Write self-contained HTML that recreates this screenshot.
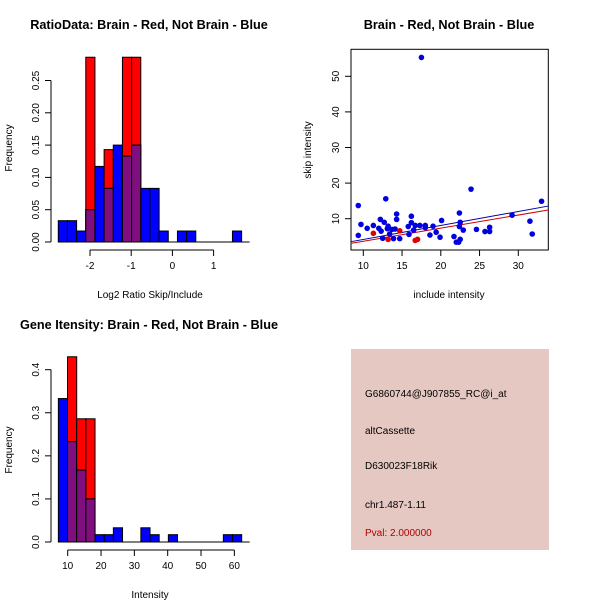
<!DOCTYPE html>
<html><head><meta charset="utf-8"><style>
body{margin:0;background:#fff}
svg{display:block;font-family:"Liberation Sans",sans-serif}
</style></head><body>
<svg id="c" width="600" height="600" xmlns="http://www.w3.org/2000/svg">
<rect width="600" height="600" fill="#fff"/>
<text x="149" y="29" font-size="12.7" font-weight="bold" text-anchor="middle">RatioData: Brain - Red, Not Brain - Blue</text>
<text x="449" y="29" font-size="12.7" font-weight="bold" text-anchor="middle">Brain - Red, Not Brain - Blue</text>
<text x="149" y="329" font-size="12.7" font-weight="bold" text-anchor="middle">Gene Itensity: Brain - Red, Not Brain - Blue</text>
<text x="150" y="298" font-size="10" text-anchor="middle">Log2 Ratio Skip/Include</text>
<text x="12" y="148" font-size="10" text-anchor="middle" transform="rotate(-90 12 148)">Frequency</text>
<text x="449" y="298" font-size="10" text-anchor="middle">include intensity</text>
<text x="311" y="150" font-size="10" text-anchor="middle" transform="rotate(-90 311 150)">skip intensity</text>
<text x="150" y="598" font-size="10" text-anchor="middle">Intensity</text>
<text x="12" y="450" font-size="10" text-anchor="middle" transform="rotate(-90 12 450)">Frequency</text>
<g>
<rect x="351" y="349" width="198" height="201" fill="#e6c8c2"/>
<text x="365" y="397" font-size="10">G6860744@J907855_RC@i_at</text>
<text x="365" y="434" font-size="10">altCassette</text>
<text x="365" y="469" font-size="10">D630023F18Rik</text>
<text x="365" y="508" font-size="10">chr1.487-1.11</text>
<text x="365" y="536" font-size="10" fill="#b00000">Pval: 2.000000</text>
</g>
<g id="g1"></g><g id="g2"></g><g id="g3"></g>
</svg>
<script>
const ratioBinStart=-2.77, ratioBinWidth=0.2225;
const ratioBlue=[0.033,0.033,0.017,0.05,0.117,0.083,0.15,0.133,0.15,0.083,0.083,0.017,0,0.017,0.017,0,0,0,0,0.017];
const ratioRed=[0,0,0,0.286,0,0.143,0,0.286,0.286,0,0,0,0,0,0,0,0,0,0,0];
const ratioXTicks=[-2,-1,0,1];
const ratioYTicks=[0,0.05,0.10,0.15,0.20,0.25];
const ratioYLabels=["0.00","0.05","0.10","0.15","0.20","0.25"];
const intBinStart=7.2, intBinWidth=2.75;
const intBlue=[0.333,0.233,0.167,0.1,0.017,0.017,0.033,0,0,0.033,0.017,0,0.017,0,0,0,0,0,0.017,0.017];
const intRed=[0,0.43,0.286,0.286,0,0,0,0,0,0,0,0,0,0,0,0,0,0,0,0];
const intXTicks=[10,20,30,40,50,60];
const intYTicks=[0,0.1,0.2,0.3,0.4];
const intYLabels=["0.0","0.1","0.2","0.3","0.4"];
const blueX=[9.35,9.35,9.7,10.5,11.3,12.2,12.0,12.3,12.5,12.7,12.9,13.1,13.2,13.4,13.7,13.9,14.1,14.3,14.3,14.7,15.8,15.9,16.2,16.2,16.5,16.7,17.5,17.3,18.0,18.0,18.6,19.0,19.4,19.9,20.1,21.7,22.0,22.4,22.5,22.4,22.5,22.9,22.3,23.9,24.6,25.7,26.3,26.3,29.2,31.5,31.8,33.0];
const blueY=[13.7,5.3,8.4,7.3,8.1,9.8,7.3,6.5,4.5,9.0,15.6,7.2,7.9,5.7,7.0,4.4,7.1,11.3,9.8,4.4,7.8,5.6,10.7,8.9,6.8,8.1,55.3,8.1,8.1,7.5,5.4,7.9,6.2,4.8,9.5,5.0,3.4,11.6,9.0,7.8,4.2,6.8,3.4,18.3,7.0,6.4,7.6,6.4,11.0,9.3,5.7,14.9];
const redX=[11.3,13.2,14.7,16.7,17.0];
const redY=[5.9,4.2,6.6,3.9,4.2];
const fitBlue=[0.24,0.393], fitRed=[-0.02,0.368];
const scXTicks=[10,15,20,25,30], scYTicks=[10,20,30,40,50];
const NS="http://www.w3.org/2000/svg";
function mk(p,t,a){const e=document.createElementNS(NS,t);for(const k in a)e.setAttribute(k,a[k]);p.appendChild(e);return e;}
function hist(g,name,start,w,blue,red,xs,ys,ylab,xT,yT,yL,axY,xTickY){
  const base=ys(0);
  for(let i=0;i<blue.length;i++){
    const x0=xs(start+i*w),x1=xs(start+(i+1)*w);
    const b=blue[i],r=red[i];
    if(r>0){const e=mk(g,'rect',{x:x0,y:ys(r),width:x1-x0,height:base-ys(r),fill:'#ff0000',stroke:'#000','stroke-width':1});
      
      }
    if(b>0){const m=Math.min(b,r);
      const e=mk(g,'rect',{x:x0,y:ys(b),width:x1-x0,height:base-ys(b),fill:'#0000ff',stroke:'#000','stroke-width':1});
      
      
      if(m>0){const p=mk(g,'rect',{x:x0,y:ys(m),width:x1-x0,height:base-ys(m),fill:'#7f0f7f',stroke:'#000','stroke-width':1});
        
        }}
  }
  mk(g,'line',{x1:xs(start),x2:xs(start+blue.length*w)+8,y1:base,y2:base,stroke:'#000'});
  const xa=mk(g,'g',{});
  
  
  mk(xa,'line',{x1:xs(xT[0]),x2:xs(xT[xT.length-1]),y1:xTickY,y2:xTickY,stroke:'#000'});
  xT.forEach(v=>{mk(xa,'line',{x1:xs(v),x2:xs(v),y1:xTickY,y2:xTickY+6,stroke:'#000'});
    const t=mk(xa,'text',{x:xs(v),y:xTickY+19,'font-size':10,'text-anchor':'middle'});t.textContent=v;});
  const ya=mk(g,'g',{});
  
  
  mk(ya,'line',{x1:axY,x2:axY,y1:ys(yT[0]),y2:ys(yT[yT.length-1]),stroke:'#000'});
  yT.forEach((v,i)=>{mk(ya,'line',{x1:axY-6,x2:axY,y1:ys(v),y2:ys(v),stroke:'#000'});
    const t=mk(ya,'text',{x:axY-12,y:ys(v),'font-size':10,'text-anchor':'middle',transform:`rotate(-90 ${axY-12} ${ys(v)})`});t.textContent=yL[i];});
}
const g1=document.getElementById('g1');
hist(g1,'ratio',ratioBinStart,ratioBinWidth,ratioBlue,ratioRed,v=>90+(v+2)*41.2,v=>242-v*646,null,ratioXTicks,ratioYTicks,ratioYLabels,51,250);
const g3=document.getElementById('g3');
hist(g3,'intensity',intBinStart,intBinWidth,intBlue,intRed,v=>67.7+(v-10)*3.333,v=>542-v*430.8,null,intXTicks,intYTicks,intYLabels,51,550);
const g2=document.getElementById('g2');
const sx=v=>363.3+(v-10)*7.75, sy=v=>218.7-(v-10)*3.56;
mk(g2,'rect',{x:351,y:49.3,width:197.3,height:200.7,fill:'none',stroke:'#000'});
scXTicks.forEach(v=>{mk(g2,'line',{x1:sx(v),x2:sx(v),y1:250,y2:256,stroke:'#000'});
  const t=mk(g2,'text',{x:sx(v),y:269,'font-size':10,'text-anchor':'middle'});t.textContent=v;});
scYTicks.forEach(v=>{mk(g2,'line',{x1:345,x2:351,y1:sy(v),y2:sy(v),stroke:'#000'});
  const t=mk(g2,'text',{x:339,y:sy(v),'font-size':10,'text-anchor':'middle',transform:`rotate(-90 339 ${sy(v)})`});t.textContent=v;});
const x0=8.4,x1=33.87;
const lb=mk(g2,'line',{x1:sx(x0),y1:sy(fitBlue[0]+fitBlue[1]*x0),x2:sx(x1),y2:sy(fitBlue[0]+fitBlue[1]*x1),stroke:'#0000aa'});


const lr=mk(g2,'line',{x1:sx(x0),y1:sy(fitRed[0]+fitRed[1]*x0),x2:sx(x1),y2:sy(fitRed[0]+fitRed[1]*x1),stroke:'#cc0000'});


blueX.forEach((v,i)=>{const c=mk(g2,'circle',{cx:sx(v),cy:sy(blueY[i]),r:2.8,fill:'#0000e0'});
  
  });
redX.forEach((v,i)=>{const c=mk(g2,'circle',{cx:sx(v),cy:sy(redY[i]),r:2.8,fill:'#e00000'});
  
  });
</script>
</body></html>
